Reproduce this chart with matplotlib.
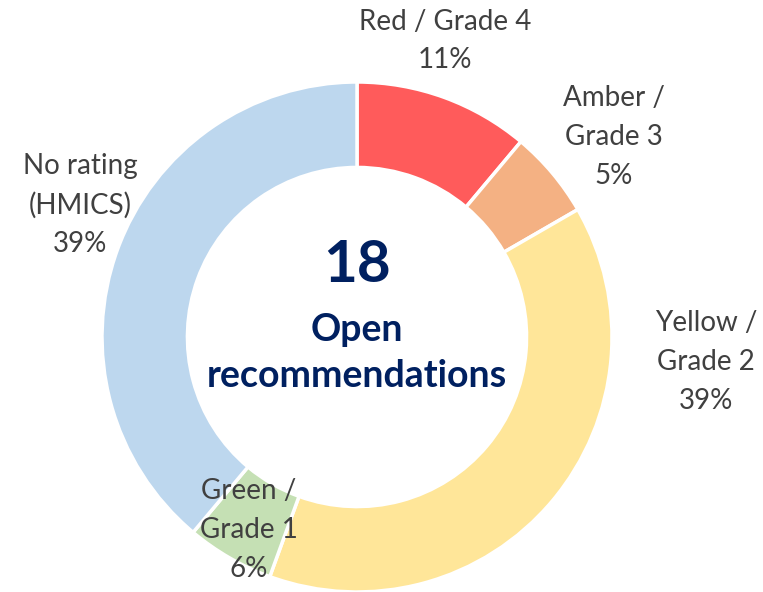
import matplotlib
matplotlib.use("Agg")
import matplotlib.pyplot as plt

categories = ["Red / Grade 4", "Amber / Grade 3", "Yellow / Grade 2", "Green / Grade 1", "No rating (HMICS)"]
counts = [2, 1, 7, 1, 7]
pct_labels = ["11%", "5%", "39%", "6%", "39%"]
label_text = ["Red / Grade 4", "Amber /\nGrade 3", "Yellow /\nGrade 2", "Green /\nGrade 1", "No rating\n(HMICS)"]
colors = ["#FF5B5B", "#F4B183", "#FFE699", "#C5E0B4", "#BDD7EE"]
total = sum(counts)

plt.rcParams['font.family'] = ['Lato', 'DejaVu Sans']

fig = plt.figure(figsize=(7.63, 5.92), dpi=100)
ax = fig.add_axes([0, 0, 1, 1])

cx, cy, r = 357, 255, 255
ax.pie(counts, colors=colors, startangle=90, counterclock=False,
       center=(cx, cy), radius=r, frame=True,
       wedgeprops=dict(width=r * 0.335, edgecolor='white', linewidth=2.5))
ax.set_xlim(0, 763)
ax.set_ylim(0, 592)
ax.set_aspect('equal')
ax.axis('off')

# label positions (pixel coords, y from bottom)
pos = [(445, 551), (614, 455), (706, 230), (249, 62), (80, 387)]
for txt, p, (x, y) in zip(label_text, pct_labels, pos):
    ax.text(x, y, txt + "\n" + p, ha='center', va='center', fontsize=20,
            color='#404040', linespacing=1.6)

ax.text(cx, 326, str(total), ha='center', va='center', fontsize=42,
        fontweight='bold', color='#002060')
ax.text(cx, 239, "Open\nrecommendations", ha='center', va='center', fontsize=27,
        fontweight='bold', color='#002060', linespacing=1.4)

fig.savefig("out.png", dpi=100)
